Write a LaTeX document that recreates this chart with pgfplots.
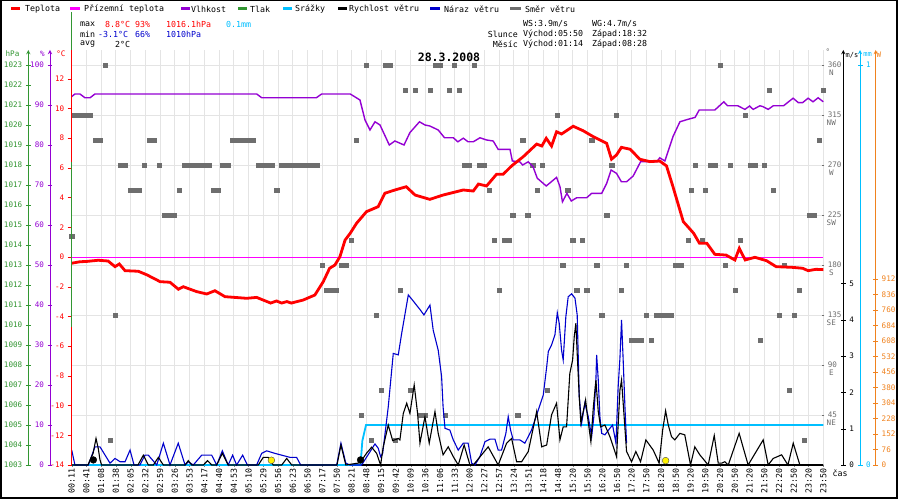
\documentclass[border=0pt]{standalone}
\usepackage{fontspec}
\setmainfont{DejaVu Sans Mono}
\usepackage{pgfplots}
\pgfplotsset{compat=1.18}
\definecolor{tred}{RGB}{255,0,0}
\definecolor{tmag}{RGB}{255,0,255}
\definecolor{tpur}{RGB}{148,0,211}
\definecolor{tgrn}{RGB}{50,150,50}
\definecolor{tcyan}{RGB}{0,191,255}
\definecolor{tblue}{RGB}{0,0,205}
\definecolor{tgray}{RGB}{110,110,110}
\definecolor{torange}{RGB}{240,130,30}
\definecolor{gridc}{RGB}{228,228,228}
\newcommand{\sm}{\fontsize{8.3}{9}\selectfont}
\newcommand{\tk}{\fontsize{7.6}{8}\selectfont}
\pgfplotsset{
  base/.style={scale only axis, width=751.6pt, height=415pt, at={(71.7pt,35pt)}, anchor=south west, xmin=0, xmax=51, clip=false},
  scl/.style={scale only axis, width=1pt, height=415pt, anchor=south west, xmin=0, xmax=1, hide x axis,
     axis line style={-}, tick align=center, major tick length=5pt,
     /pgf/number format/assume math mode=true, /pgf/number format/1000 sep={},
     tick label style={font=\tk}},
}
\begin{document}
\begin{tikzpicture}
\useasboundingbox (0,0) rectangle (900pt,500pt);
\fill[white] (0,0) rectangle (900pt,500pt);

% ---------- grid + x labels + direction labels
\begin{axis}[base, ymin=0, ymax=373.5,
  axis x line=bottom, axis y line=right, axis line style={-},
  y axis line style={draw=none}, x axis line style={black, line width=1.5pt},
  xtick={0,...,51},
  xticklabels={00:11,00:41,01:08,01:38,02:05,02:32,02:59,03:26,03:53,04:17,04:40,04:53,05:10,05:29,05:56,06:23,06:50,07:17,07:50,08:21,08:48,09:15,09:42,10:09,10:36,11:06,11:33,12:00,12:27,12:57,13:24,13:51,14:18,14:48,15:20,15:50,16:20,16:50,17:20,17:50,18:20,18:50,19:20,19:50,20:20,20:50,21:20,21:50,22:20,22:50,23:20,23:50},
  xticklabel style={rotate=90, anchor=east, font=\sm, inner sep=1pt},
  xtick align=outside, major tick length=2pt,
  ytick={45,90,...,360}, ytick style={tgray},
  yticklabel style={font=\tk, text=tgray},
  /pgf/number format/assume math mode=true,
  grid=major, major grid style={draw=gridc, line width=0.9pt},
]
\end{axis}
\begin{axis}[base, ymin=0, ymax=373.5, hide x axis, axis y line=right, y axis line style={draw=none},
  ytick={45,90,...,360}, yticklabels={NE,E,SE,S,SW,W,NW,N}, major tick length=0pt,
  yticklabel style={anchor=center, xshift=8pt, yshift=-8pt, font=\tk, text=tgray}]
\end{axis}

% ---------- left scales
\begin{axis}[scl, at={(28.3pt,35pt)}, ymin=1003, ymax=1023.75, axis y line=left,
  y axis line style={tgrn, line width=0.9pt}, ytick={1003,...,1023}, ytick style={tgrn},
  yticklabel style={text=tgrn}]
\end{axis}
\begin{axis}[scl, at={(50pt,35pt)}, ymin=0, ymax=103.75, axis y line=left,
  y axis line style={tpur, line width=0.9pt}, ytick={0,10,...,100}, ytick style={tpur},
  yticklabel style={text=tpur}]
\end{axis}
% ---------- right scales
\begin{axis}[scl, at={(842.3pt,35pt)}, ymin=0, ymax=11.42, axis y line=right,
  y axis line style={black, line width=0.9pt}, ytick={0,...,5}, ytick style={black}]
\end{axis}
\begin{axis}[scl, at={(859pt,35pt)}, ymin=0, ymax=1.0375, axis y line=right,
  y axis line style={tcyan, line width=0.9pt}, ytick={0,1}, ytick style={tcyan},
  yticklabel style={text=tcyan}]
\end{axis}
\begin{axis}[scl, at={(874.7pt,35pt)}, ymin=0, ymax=2034.8, axis y line=right,
  y axis line style={torange, line width=0.9pt}, ytick={0,76,...,912}, ytick style={torange},
  yticklabel style={text=torange}]
\end{axis}

% ---------- wind direction squares
\begin{axis}[base, hide axis, ymin=0, ymax=373.5]
\addplot[only marks, mark=square*, mark size=2.1pt, color=tgray] coordinates {
(2.26,360) (19.97,360) (21.26,360) (21.6,360) (24.65,360) (24.99,360) (25.94,360) (27.29,360) (43.98,360)
(22.61,337.5) (23.29,337.5) (24.31,337.5) (25.6,337.5) (26.28,337.5) (47.31,337.5) (51,337.5)
(0.2,315) (0.56,315) (0.9,315) (1.24,315) (32.97,315) (36.97,315) (45.68,315)
(1.58,292.5) (1.92,292.5) (5.24,292.5) (5.58,292.5) (10.92,292.5) (11.26,292.5) (11.6,292.5) (11.94,292.5) (12.28,292.5) (19.29,292.5) (30.6,292.5) (35.28,292.5) (50.7,292.5)
(3.28,270) (3.62,270) (4.9,270) (5.92,270) (7.62,270) (7.96,270) (8.3,270) (8.64,270) (8.98,270) (9.32,270) (10.24,270) (10.58,270) (12.66,270) (13.0,270) (13.27,270) (13.61,270) (14.25,270) (14.59,270) (14.93,270) (15.26,270) (15.6,270) (15.94,270) (16.28,270) (16.62,270) (26.61,270) (26.95,270) (27.63,270) (27.97,270) (31.28,270) (31.95,270) (36.64,270) (42.33,270) (43.3,270) (43.64,270) (44.66,270) (46.02,270) (46.36,270) (46.97,270)
(3.96,247.5) (4.29,247.5) (4.59,247.5) (7.28,247.5) (9.61,247.5) (9.95,247.5) (13.91,247.5) (28.31,247.5) (31.61,247.5) (33.65,247.5) (42.01,247.5) (42.97,247.5) (47.6,247.5)
(6.26,225) (6.6,225) (6.94,225) (29.92,225) (30.94,225) (36.3,225) (50.02,225) (50.36,225)
(0,206)
(18.95,202.5) (28.65,202.5) (29.33,202.5) (29.67,202.5) (33.99,202.5) (34.62,202.5) (41.85,202.5) (42.8,202.5) (45.34,202.5)
(17.0,180) (18.27,180) (18.61,180) (33.31,180) (35.62,180) (37.65,180) (40.99,180) (41.33,180) (44.32,180) (48.32,180)
(17.25,157.5) (17.59,157.5) (17.93,157.5) (22.27,157.5) (28.99,157.5) (34.26,157.5) (34.94,157.5) (37.31,157.5) (45.0,157.5) (49.34,157.5)
(2.94,135) (20.64,135) (35.96,135) (38.96,135) (39.64,135) (39.98,135) (40.32,135) (40.66,135) (48.0,135) (49.0,135)
(37.99,112.5) (38.33,112.5) (38.62,112.5) (39.3,112.5) (46.7,112.5)
(20.98,67.5) (22.95,67.5) (32.29,67.5) (48.66,67.5)
(19.63,45) (23.63,45) (23.97,45) (25.33,45) (30.26,45)
(2.6,22.5) (20.31,22.5) (21.93,22.5) (49.68,22.5)
};
\end{axis}

% ---------- precipitation
\begin{axis}[base, hide axis, ymin=0, ymax=1.0375]
\addplot[tcyan, line width=1.8pt] coordinates {(0,0) (19.6,0) (19.72,0.06) (19.97,0.1) (51,0.1)};
\end{axis}

% ---------- wind gust + speed + sun/moon
\begin{axis}[base, hide axis, ymin=0, ymax=11.42]
\addplot[tblue, line width=1.1pt] coordinates {
(0,0.41) (0.22,0) (1.13,0) (1.58,0.5) (1.92,0.5) (2.6,0.05) (2.94,0.18) (3.28,0.09) (3.62,0.09) (3.96,0.41) (4.23,0) (4.63,0) (4.97,0.27) (5.2,0.27) (5.77,0) (6.22,0.6) (6.67,0) (7.23,0.6) (7.69,0) (7.91,0.09) (8.25,0) (8.82,0.27) (9.5,0.27) (9.84,0) (10.22,0.39) (10.62,0) (10.92,0.27) (11.19,0) (11.6,0.27) (11.92,0) (12.55,0) (12.89,0.32) (13.23,0.39) (13.79,0.32) (14.81,0.21) (15.26,0.21) (15.54,0) (17.98,0) (18.27,0.6) (18.6,0.05) (18.88,0) (19.67,0) (20.58,0.58) (20.8,0.46) (20.96,0.23) (21.1,0.32) (21.48,1.6) (21.82,3.07) (22.16,3.03) (22.39,3.62) (22.84,4.68) (23.1,4.55) (23.63,4.28) (23.9,4.13) (24.31,4.4) (24.53,3.71) (24.87,3.16) (25.1,2.43) (25.2,1.6) (25.33,1.01) (25.66,0.96) (25.89,0.69) (26.23,0.41) (26.57,0.6) (26.9,0.6) (27.14,0.05) (27.36,0) (27.7,0.23) (28.04,0.64) (28.38,0.71) (28.72,0.71) (28.94,0.41) (29.17,0.41) (29.46,0.87) (29.62,1.33) (29.78,0.96) (29.96,0.69) (30.41,0.69) (30.75,0.6) (31.2,0.96) (31.66,1.51) (32.0,1.93) (32.23,2.7) (32.34,3.12) (32.56,3.3) (32.79,3.58) (32.95,4.19) (33.08,3.9) (33.24,3.16) (33.35,2.89) (33.53,4.08) (33.69,4.63) (33.92,4.71) (34.15,4.59) (34.3,4.13) (34.44,1.88) (34.6,1.15) (34.82,1.7) (35.05,1.33) (35.28,0.78) (35.43,1.33) (35.57,2.34) (35.62,3.03) (35.73,2.34) (35.84,1.33) (35.96,0.87) (36.18,0.83) (36.52,1.01) (36.7,1.1) (36.93,0.6) (37.08,2.15) (37.2,2.94) (37.31,3.99) (37.42,2.89) (37.54,1.6) (37.65,0.6)
};
\addplot[black, line width=1.1pt] coordinates {
(0,0) (1.1,0) (1.45,0.32) (1.65,0.73) (1.8,0.46) (1.92,0.14) (2.03,0) (4.5,0) (4.86,0.27) (5.2,0) (5.54,0) (5.88,0.21) (6.22,0) (7.7,0) (7.91,0.12) (8.14,0) (8.93,0) (9.22,0.12) (9.5,0) (9.84,0) (10.22,0.32) (10.62,0) (12.66,0) (13.0,0.21) (13.34,0.21) (13.68,0) (14.25,0) (14.59,0.18) (14.93,0) (18.0,0) (18.27,0.55) (18.6,0) (19.56,0.06) (20.0,0.32) (20.35,0.49) (20.69,0.32) (20.96,0) (21.14,0.5) (21.48,1.1) (21.78,0.67) (22.16,0.73) (22.27,0.69) (22.5,1.42) (22.73,1.7) (22.95,1.42) (23.24,2.2) (23.47,1.42) (23.63,0.6) (23.97,1.33) (24.26,0.6) (24.65,1.47) (24.87,0.87) (25.2,0.28) (25.55,0.5) (25.89,0.23) (26.23,0) (26.63,0.55) (27.02,0) (27.25,0) (28.26,0.5) (28.94,0) (29.51,0.6) (29.85,0.73) (30.19,0.09) (30.53,0.09) (30.98,0.37) (31.55,1.47) (31.89,0.5) (32.23,0.55) (32.56,1.38) (32.9,1.7) (33.13,0.69) (33.35,1.05) (33.58,1.05) (33.8,2.52) (33.99,2.89) (34.1,3.53) (34.21,3.9) (34.3,3.07) (34.44,1.88) (34.55,1.15) (34.71,1.47) (34.87,1.79) (35.0,1.33) (35.23,0.64) (35.39,1.56) (35.57,2.34) (35.73,1.47) (35.89,1.05) (36.18,1.1) (36.52,0.78) (36.97,0.23) (37.2,2.06) (37.31,2.34) (37.47,1.42) (37.65,0.37) (37.99,0.09) (38.28,0.37) (38.6,0.09) (38.96,0.69) (39.46,0.41) (39.86,0.05) (40.1,0.96) (40.3,1.49) (40.48,1.1) (40.7,0.78) (40.92,0.69) (41.27,0.87) (41.6,0.83) (41.99,0) (42.28,0.5) (42.62,0.28) (43.19,0) (43.6,0.81) (43.87,0.05) (44.1,0.05) (44.32,0.09) (44.55,0) (45.29,0.87) (45.9,0) (46.92,0.69) (47.26,0) (47.6,0.18) (48.17,0.28) (48.6,0) (48.96,0.6) (49.41,0) (51,0)
};
\addplot[only marks, mark=*, mark size=3.4pt, mark options={fill=black, draw=black}] coordinates {(1.47,0.14) (19.6,0.14)};
\addplot[only marks, mark=*, mark size=3.4pt, mark options={fill=yellow, draw=black!70}] coordinates {(13.55,0.13) (40.3,0.12)};
\end{axis}

% ---------- humidity
\begin{axis}[base, hide axis, ymin=0, ymax=103.75]
\addplot[tpur, line width=1.4pt] coordinates {
(0,92.1) (0.22,92.75) (0.56,92.75) (0.9,91.8) (1.24,91.8) (1.58,92.75) (12.55,92.75) (12.9,91.8) (16.6,91.8) (16.96,92.75) (18.9,92.75) (19.56,91.25) (19.9,86.25) (20.24,83.75) (20.58,85.8) (20.92,85) (21.55,80) (21.93,81) (22.55,80) (22.95,83.1) (23.6,85.8) (23.97,85) (24.3,84.75) (24.87,83.75) (25.3,81.8) (25.9,81.8) (26.2,80.8) (26.57,81.7) (26.9,80.8) (27.25,80.8) (27.7,81.8) (28.15,81.25) (28.6,81) (28.94,78.9) (29.74,78.9) (29.9,76) (30.4,75.8) (30.6,75) (30.98,75.8) (31.3,74.6) (31.59,71.7) (32.2,69.75) (32.9,71.9) (33.13,69.6) (33.3,65.8) (33.6,67.9) (33.9,66) (34.26,66.8) (34.94,66.8) (35.28,67.9) (35.96,67.9) (36.3,70.4) (36.6,73.75) (36.97,72.9) (37.3,70.8) (37.65,70.8) (38.1,72.25) (38.6,75.8) (39.7,75.8) (39.9,76.8) (40.25,76) (40.8,82.1) (41.27,85.8) (41.8,86.4) (42.3,86.9) (42.58,88.75) (43.64,88.75) (44.25,90.8) (44.5,89.8) (45.2,89.8) (45.68,88.9) (46.0,89.75) (46.24,88.9) (46.7,89.8) (46.9,89.6) (47.26,88.9) (47.6,89.8) (48.3,89.8) (48.95,91.7) (49.3,90.6) (49.6,90.6) (49.97,91.7) (50.3,90.8) (50.65,91.8) (51,90.8)
};
\end{axis}

% ---------- temperature (with red axis)
\begin{axis}[base, ymin=-14, ymax=13.933, hide x axis, axis y line=left, axis line style={-},
  y axis line style={tred, line width=1pt}, ytick={-14,-12,...,12}, ytick style={tred},
  tick align=outside, major tick length=4pt,
  yticklabel style={text=tred, font=\tk},
  /pgf/number format/assume math mode=true]
\addplot[tmag, line width=0.9pt] coordinates {(0,0) (51,0)};
\addplot[tred, line width=2.8pt] coordinates {
(0,-0.42) (0.56,-0.32) (1,-0.3) (1.8,-0.22) (2.47,-0.27) (2.94,-0.65) (3.23,-0.47) (3.62,-0.92) (4.52,-0.96) (5.1,-1.2) (6,-1.66) (6.67,-1.7) (7.24,-2.17) (7.57,-2.0) (8.48,-2.33) (9.16,-2.49) (9.72,-2.27) (10.4,-2.67) (11.87,-2.78) (12.55,-2.72) (13.5,-3.1) (13.9,-2.96) (14.25,-3.1) (14.6,-3.0) (14.9,-3.1) (15.7,-2.9) (16.5,-2.56) (17.07,-1.66) (17.5,-0.76) (17.86,-0.54) (18.2,0.02) (18.55,1.14) (18.9,1.6) (19.33,2.27) (20,3.05) (20.8,3.39) (21.25,4.29) (21.93,4.51) (22.7,4.73) (23.3,4.17) (24.3,3.88) (25.2,4.17) (26.57,4.51) (27.25,4.44) (27.6,4.91) (28.15,4.78) (28.83,5.57) (29.28,5.57) (29.85,6.13) (30.64,6.75) (31.55,7.6) (31.9,7.47) (32.2,7.99) (32.56,7.47) (32.9,8.43) (33.24,8.28) (34.03,8.8) (34.7,8.5) (35.39,8.1) (36.3,7.65) (36.63,6.58) (36.97,6.87) (37.3,7.38) (37.9,7.25) (38.55,6.58) (39.23,6.42) (39.9,6.46) (40.36,6.13) (40.8,4.73) (41.5,2.38) (42.2,1.6) (42.6,0.92) (43.1,0.92) (43.64,0.18) (44.4,0.13) (45,-0.2) (45.3,0.58) (45.7,-0.2) (46.36,-0.02) (47.15,-0.25) (47.8,-0.65) (48.95,-0.7) (49.6,-0.76) (49.97,-0.92) (50.5,-0.83) (51,-0.85)
};
\end{axis}
\draw[tgrn, line width=1pt] (71.7pt,488pt) -- (71.7pt,450pt);
\draw[tgrn, line width=1pt] (71.7pt,338pt) -- (71.7pt,173pt);

% ---------- headers
\node[font=\tk, text=tgrn] at (12.5pt,446pt) {hPa};
\node[font=\tk, text=tpur] at (42.3pt,446pt) {\%};
\node[font=\tk, text=tred] at (61pt,446pt) {°C};
\node[font=\tk, text=tgray] at (828pt,448pt) {°};
\node[font=\fontsize{7}{8}\selectfont] at (852pt,445pt) {m/s};
\node[font=\fontsize{7}{8}\selectfont, text=tcyan] at (867.7pt,445pt) {mm};
\node[font=\tk, text=torange] at (879pt,445pt) {W};
\node[font=\sm] at (840pt,27pt) {čas};

% ---------- legend
\begin{scope}[every node/.style={anchor=west, inner sep=0pt, font=\sm}]
\draw[tred, line width=3pt] (11pt,491pt) -- (20pt,491pt); \node at (25pt,491pt) {Teplota};
\draw[tmag, line width=3pt] (70pt,491pt) -- (80pt,491pt); \node at (84pt,491pt) {Přízemní teplota};
\draw[tpur, line width=3pt] (181pt,491pt) -- (190pt,491pt); \node at (191pt,491pt) {Vlhkost};
\draw[tgrn, line width=3pt] (238pt,491pt) -- (247pt,491pt); \node at (250pt,491pt) {Tlak};
\draw[tcyan, line width=3pt] (283pt,491pt) -- (292pt,491pt); \node at (295pt,491pt) {Srážky};
\draw[black, line width=3pt] (338pt,491pt) -- (347pt,491pt); \node at (349pt,491pt) {Rychlost větru};
\draw[tblue, line width=3pt] (430pt,491pt) -- (440pt,491pt); \node at (444pt,491pt) {Náraz větru};
\draw[tgray, line width=3pt] (510pt,491pt) -- (521pt,491pt); \node at (525pt,491pt) {Směr větru};
% info block
\node at (80pt,476pt) {max}; \node[text=tred] at (105pt,476pt) {8.8°C}; \node[text=tred] at (135pt,476pt) {93\%};
\node[text=tred] at (166pt,476pt) {1016.1hPa}; \node[text=tcyan] at (226pt,476pt) {0.1mm};
\node at (80pt,466pt) {min}; \node[text=tblue] at (98pt,466pt) {-3.1°C}; \node[text=tblue] at (135pt,466pt) {66\%};
\node[text=tblue] at (166pt,466pt) {1010hPa};
\node at (80pt,456pt) {avg}; \node at (115pt,456pt) {2°C};
\node at (523pt,476pt) {WS:3.9m/s}; \node at (592pt,476pt) {WG:4.7m/s};
\node[anchor=east] at (518pt,466pt) {Slunce}; \node at (523pt,466pt) {Východ:05:50}; \node at (592pt,466pt) {Západ:18:32};
\node[anchor=east] at (518pt,456pt) {Měsíc}; \node at (523pt,456pt) {Východ:01:14}; \node at (592pt,456pt) {Západ:08:28};
\end{scope}
\node[font=\bfseries\fontsize{11.5}{12}\selectfont] at (449pt,443pt) {28.3.2008};

\draw[black, line width=1.5pt] (0.75pt,2pt) rectangle (897pt,499.25pt);
\end{tikzpicture}
\end{document}
